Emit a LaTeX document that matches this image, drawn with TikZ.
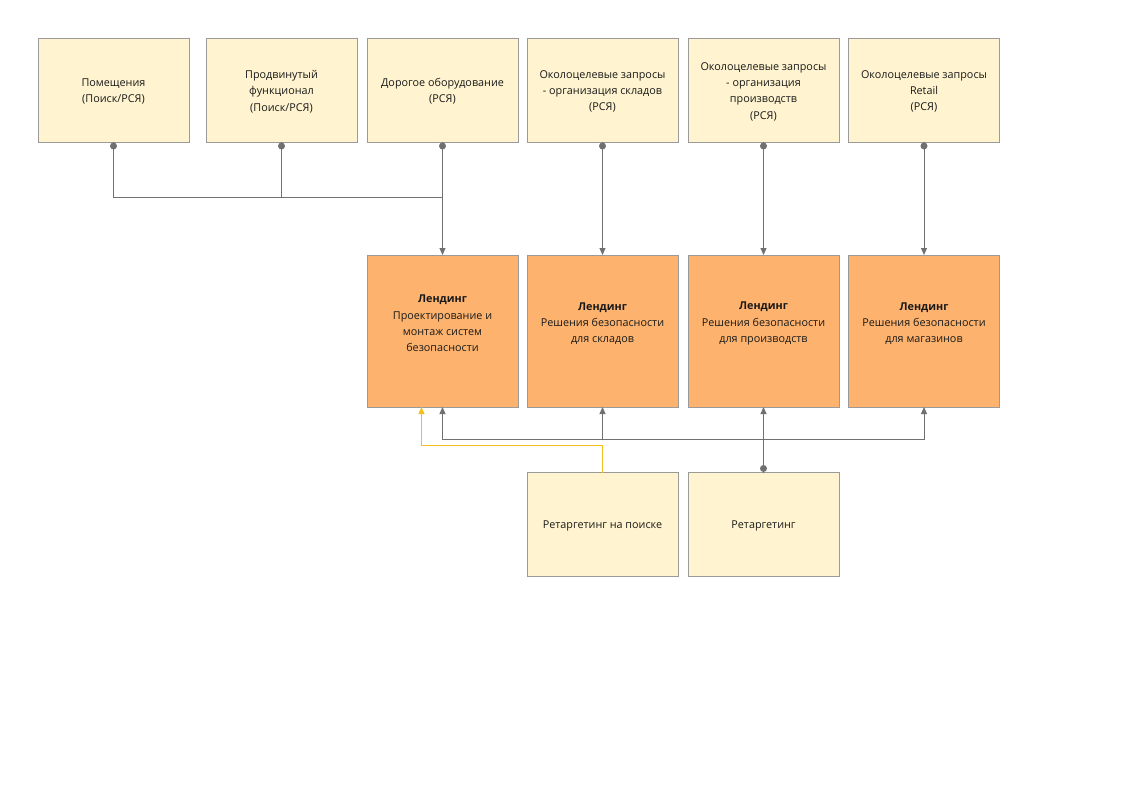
\documentclass[tikz,border=0pt]{standalone}
\usepackage{fontspec}
\setmainfont{Open Sans}
\usetikzlibrary{arrows.meta}
\definecolor{lightbox}{HTML}{FFF4CF}
\definecolor{orangebox}{HTML}{FDB36E}
\definecolor{boxborder}{HTML}{9A9A9A}
\definecolor{linegray}{HTML}{707070}
\definecolor{lineyellow}{HTML}{F2BE22}
\begin{document}
\begin{tikzpicture}[x=1pt,y=-1pt,
  lbox/.style={draw=boxborder,fill=lightbox,line width=0.8pt,minimum width=151pt,minimum height=104pt,inner sep=0pt,outer sep=0pt},
  obox/.style={draw=boxborder,fill=orangebox,line width=0.8pt,minimum width=151pt,minimum height=152pt,inner sep=0pt,outer sep=0pt},
  txt/.style={align=center,font=\fontsize{10.8}{16.3}\selectfont,text=black!90},
  conn/.style={draw=linegray,line width=1pt},
  arr/.style={-{Triangle[width=6pt,length=7pt]}},
  dot/.style={circle,fill=linegray,inner sep=0pt,minimum size=7pt}
]
\useasboundingbox (0,0) rectangle (1123,794);
% top row
\node[lbox] (t1) at (113.5,90) {};
\node[lbox] (t2) at (281.5,90) {};
\node[lbox] (t3) at (442.5,90) {};
\node[lbox] (t4) at (602.5,90) {};
\node[lbox] (t5) at (763.5,90) {};
\node[lbox] (t6) at (924,90) {};
\node[txt] at ([yshift=-1.5pt]t1) {Помещения\\(Поиск/РСЯ)};
\node[txt] at ([yshift=-1.5pt]t2) {Продвинутый\\функционал\\(Поиск/РСЯ)};
\node[txt] at ([yshift=-1.5pt]t3) {Дорогое оборудование\\(РСЯ)};
\node[txt] at ([yshift=-1.5pt]t4) {Околоцелевые запросы\\- организация складов\\(РСЯ)};
\node[txt] at ([yshift=-1.5pt]t5) {Околоцелевые запросы\\- организация\\производств\\(РСЯ)};
\node[txt] at ([yshift=-1.5pt]t6) {Околоцелевые запросы\\Retail\\(РСЯ)};
% middle row
\node[obox] (m1) at (442.5,331) {};
\node[obox] (m2) at (602.5,331) {};
\node[obox] (m3) at (763.5,331) {};
\node[obox] (m4) at (924,331) {};
\node[txt] at (442.5,323.5) {\textbf{Лендинг}\\Проектирование и\\монтаж систем\\безопасности};
\node[txt] at (602.5,323.5) {\textbf{Лендинг}\\Решения безопасности\\для складов};
\node[txt] at (763.5,323.5) {\textbf{Лендинг}\\Решения безопасности\\для производств};
\node[txt] at (924,323.5) {\textbf{Лендинг}\\Решения безопасности\\для магазинов};
% bottom row
\node[lbox] (b1) at (602.5,524.5) {};
\node[lbox] (b2) at (763.5,524.5) {};
\node[txt] at ([yshift=-1.5pt]b1) {Ретаргетинг на поиске};
\node[txt] at ([yshift=-1.5pt]b2) {Ретаргетинг};
% coordinates
\coordinate (j) at (442.5,198);
\coordinate (h) at (763.5,439);
% top connectors
\draw[conn] (t1.south) -- (t1.south |- j) -- (j);
\draw[conn] (t2.south) -- (t2.south |- j) -- (j);
\draw[conn,arr] (t3.south) -- (m1.north);
\draw[conn,arr] (t4.south) -- (m2.north);
\draw[conn,arr] (t5.south) -- (m3.north);
\draw[conn,arr] (t6.south) -- (m4.north);
\foreach \n in {t1,t2,t3,t4,t5,t6} \node[dot] at ([yshift=-4pt]\n.south) {};
% bottom connectors
\draw[conn,line width=1.4pt] (b2.north) -- (h);
\draw[conn,arr] (h) -- (m3.south);
\draw[conn,arr] (h) -- (m1.south |- h) -- (m1.south);
\draw[conn,arr] (h) -- (m4.south |- h) -- (m4.south);
\draw[conn,arr] (m2.south |- h) -- (m2.south);
\node[dot] at ([yshift=4pt]b2.north) {};
\draw[draw=lineyellow,line width=1pt,arr] (b1.north) -- ++(0,-27) -| ([xshift=-21pt]m1.south);
\end{tikzpicture}
\end{document}
